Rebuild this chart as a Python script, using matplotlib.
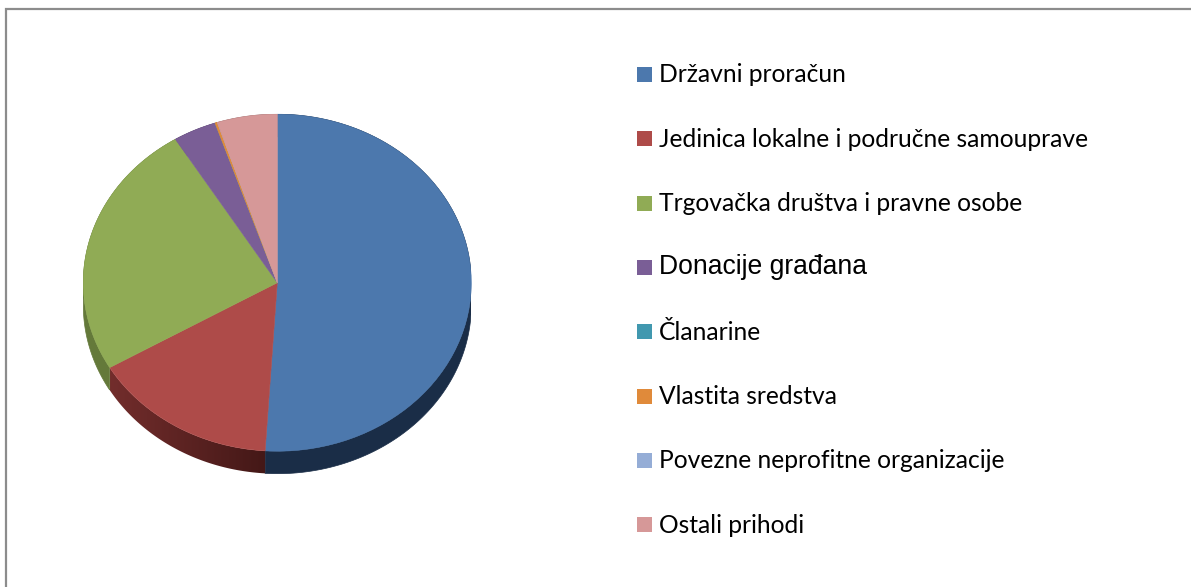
import numpy as np
import matplotlib
matplotlib.use("Agg")
import matplotlib.pyplot as plt
from matplotlib.patches import Rectangle, Polygon

categories = ["Državni proračun", "Jedinica lokalne i područne samouprave",
              "Trgovačka društva i pravne osobe", "Donacije građana", "Članarine",
              "Vlastita sredstva", "Povezne neprofitne organizacije", "Ostali prihodi"]
values = [51.0, 15.6, 24.6, 3.6, 0.0, 0.2, 0.0, 5.0]
colors = ["#4c78ad", "#ae4b49", "#90ab55", "#7a5e96", "#4198af", "#e08a3a", "#95add6", "#d69898"]
side_colors = ["#1a2d47", "#5a2322", "#64793a", "#4f3d63", "#2a6372", "#925a26", "#61708c", "#8b6363"]

W, H = 1191, 587
CX, CY, RX, RY, DEPTH = 277.3, 282.7, 194.0, 168.5, 22.5

fig = plt.figure(figsize=(W / 100, H / 100), dpi=100, facecolor="white")

# frame only along the top and left, as in the picture
bg = fig.add_axes([0, 0, 1, 1])
bg.set_xlim(0, W)
bg.set_ylim(H, 0)
bg.axis("off")
bg.plot([6, 6, W], [H, 9, 9], color="#8c8c8c", lw=1.6, solid_joinstyle="miter")

# pie axes: unit circle stretched to the ellipse of the tilted pie, with room for the side
d = DEPTH / RY
ax = fig.add_axes([(CX - RX) / W, (H - CY - RY - DEPTH) / H, 2 * RX / W, (2 * RY + DEPTH) / H])
wedges, _ = ax.pie(values, colors=colors, startangle=90, counterclock=False, radius=1,
                   wedgeprops=dict(linewidth=0, zorder=5))
for w, c in zip(wedges, colors):
    w.set_edgecolor(c)
    w.set_linewidth(0.4)

for w, c in zip(wedges, side_colors):
    if w.theta2 - w.theta1 <= 0:
        continue
    t = np.radians(np.linspace(w.theta1, w.theta2, 200))
    x, y = np.cos(t), np.sin(t)
    band = np.r_[np.c_[x, y], np.c_[x[::-1], y[::-1] - d]]
    poly = Polygon(band, closed=True, facecolor=c, edgecolor=c, lw=0.5, zorder=2)
    ax.add_patch(poly)
    if c == "#5a2322":  # the red side darkens towards the right
        poly.set_facecolor("none")
        poly.set_edgecolor("none")
        grad = np.linspace(0, 1, 256).reshape(1, -1, 1)
        c0, c1 = np.array([0x72, 0x2d, 0x2c]) / 255, np.array([0x44, 0x18, 0x17]) / 255
        img = c0 + (c1 - c0) * grad
        im = ax.imshow(img, extent=[x.min(), x.max(), -1 - d, 0], aspect="auto", zorder=2)
        im.set_clip_path(poly)
ax.set_aspect("auto")
ax.set_xlim(-1, 1)
ax.set_ylim(-1 - d, 1)

# legend
for i, (name, col) in enumerate(zip(categories, colors)):
    yc = 74.5 + i * 64.3
    bg.add_patch(Rectangle((637, yc - 7.5), 15, 15, facecolor=col, edgecolor="none"))
    if name == "Donacije građana":
        bg.text(659, yc + 7, name, fontsize=19.1, family="Liberation Sans", color="black", va="baseline")
    else:
        bg.text(659, yc + 8, name, fontsize=17.7, family="Lato", color="black", va="baseline")

fig.savefig("out.png", dpi=100, facecolor="white")
